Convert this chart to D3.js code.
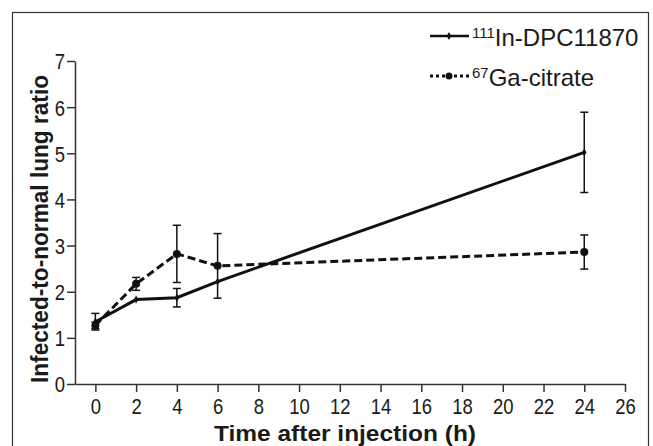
<!DOCTYPE html>
<html>
<head>
<meta charset="utf-8">
<script src="https://d3js.org/d3.v7.min.js"></script>
<style>
  body { margin: 0; background: #fff; }
  text { font-family: "Liberation Sans", Arial, sans-serif; fill: #1a1a1a; }
</style>
</head>
<body>
<div id="chart-area"></div>
<script>
const W = 653
const H = 446
const MARGIN = {LEFT: 75, RIGHT: 28, TOP: 61, BOTTOM: 62}

// hours after injection
const hours = [0, 2, 4, 6, 24]
const inDpc = [1.35, 1.83, 1.87, 2.22, 5.02]
const inDpcErr = [0.18, 0, 0.2, 0, 0.87]
const gaCitrate = [1.27, 2.17, 2.82, 2.56, 2.86]
const gaCitrateErr = [0.07, 0.14, 0.62, 0.7, 0.37]
const xTicks = [0, 2, 4, 6, 8, 10, 12, 14, 16, 18, 20, 22, 24, 26]
const yTicks = [0, 1, 2, 3, 4, 5, 6, 7]

const SQUEEZE = 0.84

const svg = d3.select("#chart-area").append("svg")
  .attr("width", W)
  .attr("height", H)

svg.append("rect")
  .attr("x", 12.5)
  .attr("y", 12.5)
  .attr("width", 636)
  .attr("height", 460)
  .attr("fill", "none")
  .attr("stroke", "#333")
  .attr("stroke-width", 1.2)

const x = d3.scaleLinear()
  .domain([-1, 26])
  .range([MARGIN.LEFT, W - MARGIN.RIGHT])

const y = d3.scaleLinear()
  .domain([0, 7])
  .range([H - MARGIN.BOTTOM, MARGIN.TOP])

const xAxis = svg.append("g")
  .attr("transform", `translate(0, ${H - MARGIN.BOTTOM})`)
  .call(d3.axisBottom(x).tickValues(xTicks).tickSizeInner(8).tickSizeOuter(0).tickPadding(6))

const yAxis = svg.append("g")
  .attr("transform", `translate(${MARGIN.LEFT}, 0)`)
  .call(d3.axisLeft(y).tickValues(yTicks).tickFormat(d3.format("d")).tickSizeInner(8).tickSizeOuter(0))

svg.selectAll(".domain, .tick line")
  .attr("stroke", "#333")
  .attr("stroke-width", 1.5)

xAxis.selectAll("text")
  .attr("font-size", "22px")
  .attr("transform", `scale(${SQUEEZE},1)`)
  .attr("fill", "#1a1a1a")

yAxis.selectAll("text")
  .attr("font-size", "22px")
  .attr("x", -10 / SQUEEZE)
  .attr("dy", "0.36em")
  .attr("transform", `scale(${SQUEEZE},1)`)
  .attr("fill", "#1a1a1a")

svg.append("text")
  .attr("x", -229)
  .attr("y", 48)
  .attr("transform", "rotate(-90)")
  .attr("text-anchor", "middle")
  .attr("font-size", "24px")
  .attr("font-weight", "bold")
  .attr("textLength", 308)
  .attr("lengthAdjust", "spacingAndGlyphs")
  .text("Infected-to-normal lung ratio")

svg.append("text")
  .attr("x", 345)
  .attr("y", 441)
  .attr("text-anchor", "middle")
  .attr("font-size", "22px")
  .attr("font-weight", "bold")
  .attr("textLength", 262)
  .attr("lengthAdjust", "spacingAndGlyphs")
  .text("Time after injection (h)")

const series = [
  {name: "In", values: inDpc, errs: inDpcErr, dash: null},
  {name: "Ga", values: gaCitrate, errs: gaCitrateErr, dash: "8,4"}
]

const line = d3.line()
  .x(d => x(d[0]))
  .y(d => y(d[1]))

series.forEach(s => {
  const pts = hours.map((h, i) => [h, s.values[i], s.errs[i]])

  svg.append("path")
    .datum(pts)
    .attr("fill", "none")
    .attr("stroke", "#111")
    .attr("stroke-width", 3)
    .attr("stroke-dasharray", s.dash)
    .attr("d", line)

  const bars = svg.append("g")
    .selectAll("g")
    .data(pts.filter(d => d[2] > 0))
    .enter().append("g")
    .attr("stroke", "#111")
    .attr("stroke-width", 1.5)

  bars.append("line")
    .attr("x1", d => x(d[0]))
    .attr("x2", d => x(d[0]))
    .attr("y1", d => y(d[1] - d[2]))
    .attr("y2", d => y(d[1] + d[2]))

  bars.append("line")
    .attr("x1", d => x(d[0]) - 4)
    .attr("x2", d => x(d[0]) + 4)
    .attr("y1", d => y(d[1] + d[2]))
    .attr("y2", d => y(d[1] + d[2]))

  bars.append("line")
    .attr("x1", d => x(d[0]) - 4)
    .attr("x2", d => x(d[0]) + 4)
    .attr("y1", d => y(d[1] - d[2]))
    .attr("y2", d => y(d[1] - d[2]))

  if (s.name == "Ga") {
    svg.append("g").selectAll("circle")
      .data(pts)
      .enter().append("circle")
      .attr("cx", d => x(d[0]))
      .attr("cy", d => y(d[1]))
      .attr("r", 4)
      .attr("fill", "#111")
  } else {
    svg.append("g").selectAll("path")
      .data(pts)
      .enter().append("path")
      .attr("d", d3.symbol(d3.symbolDiamond, 18))
      .attr("transform", d => `translate(${x(d[0])}, ${y(d[1])})`)
      .attr("fill", "#111")
  }
})

// legend
const legend = svg.append("g")

const legRows = [
  {y: 36, sup: "111", label: "In-DPC11870", dash: null, width: 2.5, mark: "diamond"},
  {y: 76, sup: "67", label: "Ga-citrate", dash: "3,3", width: 3, mark: "circle"}
]

legRows.forEach(r => {
  legend.append("line")
    .attr("x1", 430)
    .attr("x2", 469)
    .attr("y1", r.y)
    .attr("y2", r.y)
    .attr("stroke", "#111")
    .attr("stroke-width", r.width)
    .attr("stroke-dasharray", r.dash)

  if (r.mark == "circle") {
    legend.append("circle")
      .attr("cx", 449)
      .attr("cy", r.y)
      .attr("r", 3.5)
      .attr("fill", "#111")
  } else {
    legend.append("path")
      .attr("d", d3.symbol(d3.symbolDiamond, 18))
      .attr("transform", `translate(449, ${r.y})`)
      .attr("fill", "#111")
  }

  const t = legend.append("text")
    .attr("x", 472)
    .attr("y", r.y + 10)
    .attr("font-size", "24px")

  t.append("tspan")
    .attr("font-size", "15px")
    .attr("dy", -8)
    .text(r.sup)

  t.append("tspan")
    .attr("dy", 8)
    .text(r.label)
})
</script>
</body>
</html>
